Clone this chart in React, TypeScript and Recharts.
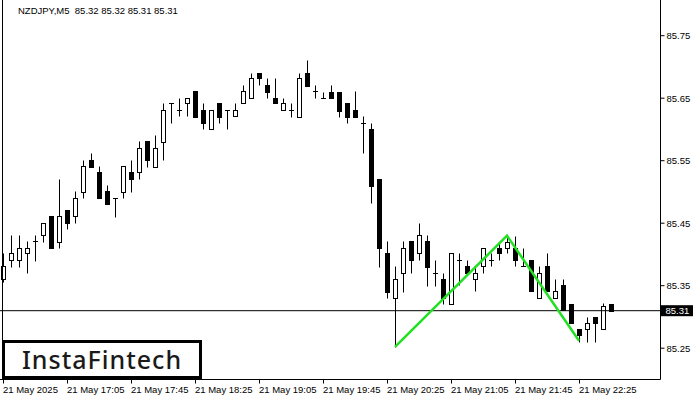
import React from 'react'
import { ComposedChart, Bar, Line, XAxis, YAxis, ReferenceLine } from 'recharts'

// NZDJPY M5, 77 candles from 16:25 to 22:45
const open = [
  85.360, 85.391, 85.391, 85.402, 85.421, 85.431, 85.462, 85.420, 85.471, 85.462,
  85.500, 85.551, 85.532, 85.501, 85.491, 85.500, 85.532, 85.532, 85.582, 85.540,
  85.580, 85.642, 85.631, 85.642, 85.662, 85.631, 85.601, 85.642, 85.631, 85.621,
  85.642, 85.651, 85.691, 85.671, 85.651, 85.631, 85.631, 85.620, 85.691, 85.662,
  85.651, 85.660, 85.660, 85.642, 85.631, 85.611, 85.600, 85.521, 85.402, 85.331,
  85.371, 85.422, 85.402, 85.422, 85.371, 85.360, 85.321, 85.391, 85.382, 85.360,
  85.382, 85.391, 85.411, 85.411, 85.411, 85.382, 85.391, 85.331, 85.382, 85.331,
  85.351, 85.320, 85.281, 85.281, 85.300, 85.281, 85.320,
]
const high = [
  85.403, 85.431, 85.431, 85.422, 85.431, 85.451, 85.462, 85.520, 85.471, 85.502,
  85.551, 85.563, 85.542, 85.511, 85.491, 85.542, 85.551, 85.582, 85.582, 85.591,
  85.642, 85.642, 85.651, 85.651, 85.662, 85.642, 85.631, 85.642, 85.631, 85.642,
  85.671, 85.691, 85.691, 85.682, 85.682, 85.651, 85.642, 85.691, 85.711, 85.671,
  85.660, 85.671, 85.660, 85.642, 85.662, 85.622, 85.611, 85.521, 85.422, 85.382,
  85.422, 85.422, 85.451, 85.431, 85.391, 85.371, 85.402, 85.402, 85.391, 85.382,
  85.411, 85.402, 85.420, 85.430, 85.430, 85.411, 85.391, 85.382, 85.402, 85.360,
  85.360, 85.320, 85.281, 85.300, 85.300, 85.322, 85.320,
]
const low = [
  85.356, 85.380, 85.380, 85.371, 85.390, 85.420, 85.411, 85.411, 85.440, 85.451,
  85.491, 85.540, 85.491, 85.481, 85.460, 85.491, 85.500, 85.520, 85.540, 85.540,
  85.551, 85.611, 85.622, 85.622, 85.620, 85.600, 85.601, 85.611, 85.601, 85.621,
  85.642, 85.651, 85.671, 85.651, 85.642, 85.631, 85.620, 85.620, 85.670, 85.651,
  85.651, 85.651, 85.620, 85.611, 85.620, 85.562, 85.482, 85.380, 85.331, 85.252,
  85.340, 85.371, 85.391, 85.350, 85.350, 85.321, 85.321, 85.351, 85.371, 85.341,
  85.371, 85.382, 85.391, 85.402, 85.382, 85.382, 85.341, 85.331, 85.341, 85.331,
  85.311, 85.291, 85.260, 85.260, 85.260, 85.281, 85.310,
]
const close = [
  85.381, 85.402, 85.411, 85.411, 85.421, 85.451, 85.411, 85.462, 85.451, 85.491,
  85.542, 85.540, 85.491, 85.481, 85.491, 85.542, 85.520, 85.571, 85.551, 85.571,
  85.631, 85.642, 85.631, 85.651, 85.620, 85.611, 85.631, 85.620, 85.631, 85.631,
  85.662, 85.682, 85.682, 85.660, 85.642, 85.642, 85.631, 85.682, 85.670, 85.662,
  85.651, 85.651, 85.630, 85.620, 85.620, 85.611, 85.510, 85.411, 85.340, 85.360,
  85.411, 85.391, 85.431, 85.380, 85.371, 85.331, 85.402, 85.391, 85.371, 85.371,
  85.411, 85.391, 85.402, 85.420, 85.391, 85.382, 85.341, 85.371, 85.341, 85.341,
  85.311, 85.291, 85.271, 85.291, 85.291, 85.318, 85.310,
]

// double bottom pattern (green polyline)
const patternIdx = [49, 63, 72]
const patternVal = [85.252, 85.430, 85.262]

const timeTicks = [0, 8, 16, 24, 32, 40, 48, 56, 64, 72]
const timeLabels = [
  '21 May 2025', '21 May 17:05', '21 May 17:45', '21 May 18:25', '21 May 19:05',
  '21 May 19:45', '21 May 20:25', '21 May 21:05', '21 May 21:45', '21 May 22:25',
]
const priceTicks = [85.25, 85.31, 85.35, 85.45, 85.55, 85.65, 85.75]
const lastPrice = 85.31

const data = open.map((o, i) => {
  const p = patternIdx.indexOf(i)
  return {
    i,
    open: o,
    high: high[i],
    low: low[i],
    close: close[i],
    range: [low[i], high[i]],
    pattern: p >= 0 ? patternVal[p] : null,
  }
})

const FONT = '"Liberation Sans", Arial, sans-serif'

const Candle = (props: any) => {
  const { x, y, width, height, payload } = props
  if (x == null || y == null) return null
  const top = Math.min(y, y + height)
  const bottom = Math.max(y, y + height)
  const span = payload.high - payload.low
  const k = span > 0 ? (bottom - top) / span : 0
  const py = (v: number) => Math.round(top + (payload.high - v) * k) + 0.5
  const cx = Math.round(x + width / 2) + 0.5
  const bull = payload.close > payload.open
  const yt = py(Math.max(payload.open, payload.close))
  const yb = py(Math.min(payload.open, payload.close))
  const wick = <line x1={cx} x2={cx} y1={py(payload.high)} y2={py(payload.low)} stroke="#000" strokeWidth={1} />
  if (Math.abs(payload.close - payload.open) < 0.002) {
    return (
      <g>
        {wick}
        <line x1={cx - 2.5} x2={cx + 2.5} y1={yt} y2={yt} stroke="#000" strokeWidth={1} />
      </g>
    )
  }
  return (
    <g>
      {wick}
      <rect x={cx - 2} y={yt} width={4} height={Math.max(yb - yt, 1)} fill={bull ? '#fff' : '#000'} stroke="#000" strokeWidth={1} />
    </g>
  )
}

const TimeTick = (props: any) => {
  const { x, y, payload } = props
  const idx = timeTicks.indexOf(payload.value)
  const px = Math.round(x) + 0.5
  return (
    <g>
      <line x1={px} x2={px} y1={y} y2={y + 4} stroke="#000" />
      <text x={px - 0.5} y={y + 13.5} fontSize={9.5} fontFamily={FONT} fill="#000" textAnchor="start">
        {timeLabels[idx]}
      </text>
    </g>
  )
}

const PriceTick = (props: any) => {
  const { x, y, payload } = props
  const v = payload.value
  if (Math.abs(v - lastPrice) < 1e-6) {
    return (
      <g>
        <rect x={x + 0.5} y={y - 5.5} width={32} height={11} fill="#000" />
        <text x={x + 5} y={y + 3.5} fontSize={9.5} fontFamily={FONT} fill="#fff">
          {v.toFixed(2)}
        </text>
      </g>
    )
  }
  return (
    <g>
      <line x1={x} x2={x + 4} y1={y} y2={y} stroke="#000" />
      <text x={x + 6} y={y + 3.5} fontSize={9.5} fontFamily={FONT} fill="#000">
        {v.toFixed(2)}
      </text>
    </g>
  )
}

export default function App() {
  return (
    <div style={{ position: 'absolute', left: 0, top: 0, width: 700, height: 400, background: '#fff', overflow: 'hidden' }}>
      <ComposedChart width={700} height={400} data={data} margin={{ top: 0, right: 0, left: 0, bottom: 0 }}>
        <XAxis
          dataKey="i"
          type="number"
          domain={[-0.375, 82.1875]}
          ticks={timeTicks}
          interval={0}
          height={20.5}
          tickLine={false}
          tickSize={0}
          tickMargin={0}
          axisLine={{ stroke: '#000' }}
          tick={<TimeTick />}
        />
        <YAxis
          orientation="right"
          type="number"
          domain={[85.19992, 85.80712]}
          allowDataOverflow
          ticks={priceTicks}
          interval={0}
          width={39.5}
          tickLine={false}
          tickSize={0}
          tickMargin={0}
          axisLine={{ stroke: '#000' }}
          tick={<PriceTick />}
        />
        <ReferenceLine y={lastPrice} stroke="#000" strokeWidth={1} />
        <Bar dataKey="range" barSize={5} shape={<Candle />} isAnimationActive={false} />
        <Line
          dataKey="pattern"
          connectNulls
          stroke="#22e022"
          strokeWidth={2.5}
          dot={false}
          activeDot={false}
          isAnimationActive={false}
        />
      </ComposedChart>
      <div style={{ position: 'absolute', left: 2, top: 0, width: 1, height: 380, background: '#000' }} />
      <div style={{ position: 'absolute', left: 18, top: 5, fontFamily: FONT, fontSize: 9.5, color: '#000', whiteSpace: 'pre' }}>
        NZDJPY,M5  85.32 85.32 85.31 85.31
      </div>
      <div
        style={{
          position: 'absolute', left: 2, top: 340, width: 177, height: 33,
          border: '3px solid #000', background: '#fff',
          fontFamily: '"Noto Sans", sans-serif', fontSize: 25, fontWeight: 500, color: '#1a1a1a',
          letterSpacing: 1, lineHeight: '33px', paddingLeft: 17, boxSizing: 'content-box',
          whiteSpace: 'nowrap',
        }}
      >
        InstaFintech
      </div>
    </div>
  )
}
